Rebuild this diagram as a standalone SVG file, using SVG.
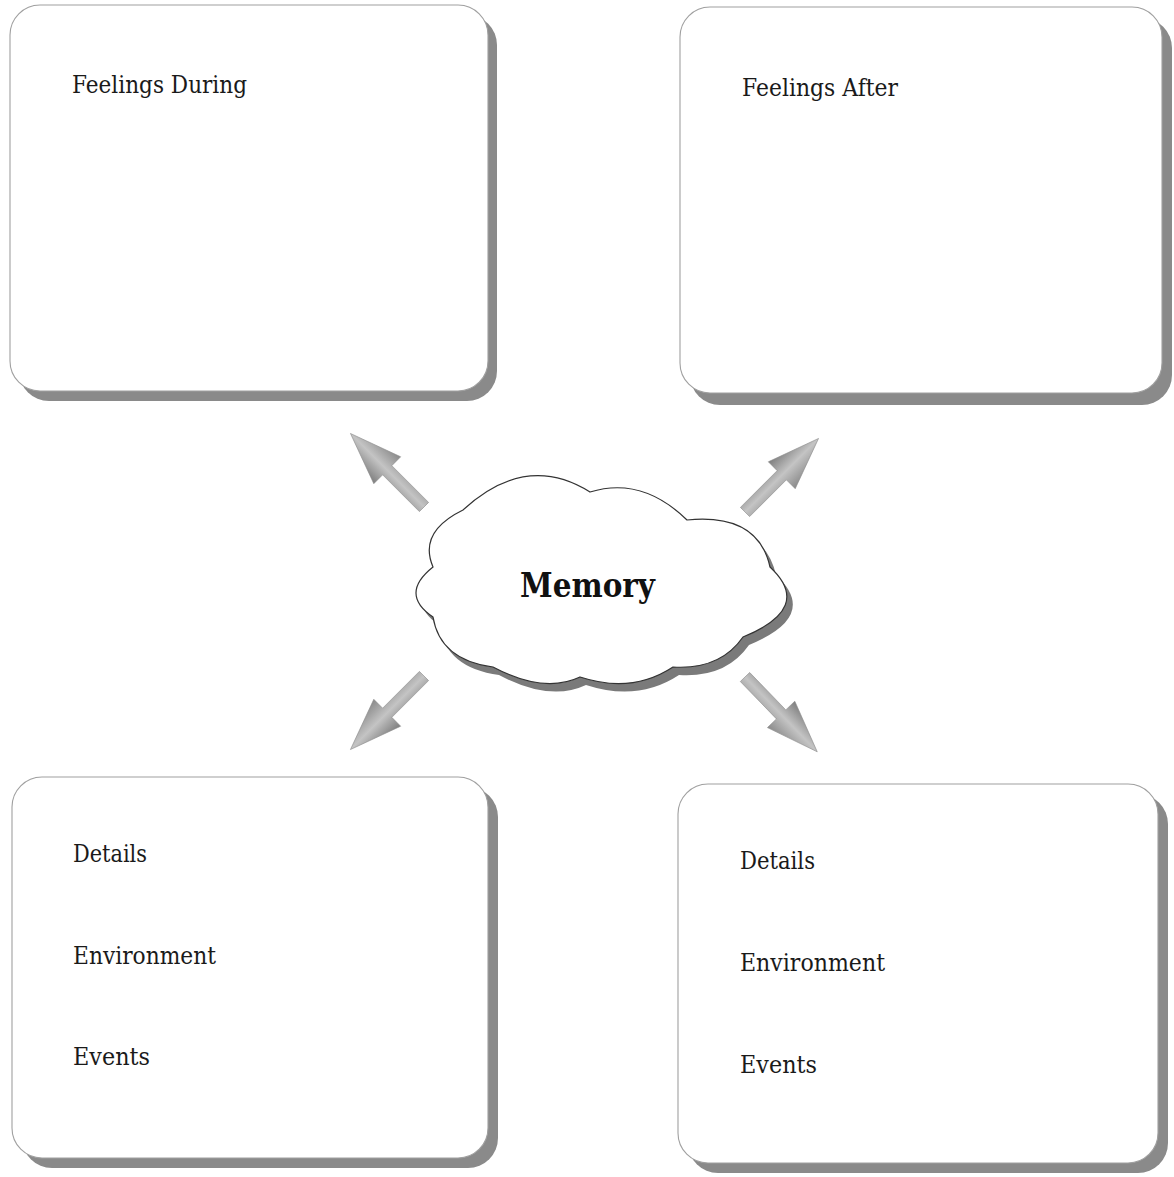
<svg xmlns="http://www.w3.org/2000/svg" xmlns:xlink="http://www.w3.org/1999/xlink" width="1174" height="1177" viewBox="0 0 1174 1177">
<style>
.bg{fill:#ffffff}
.shadow{fill:#8a8a8a}
.box{fill:#ffffff;stroke:#a0a0a0;stroke-width:1.1}
.lbl{font-family:"DejaVu Serif","Liberation Serif",serif;font-size:24px;fill:#1a1a1a}
.title{font-family:"DejaVu Serif","Liberation Serif",serif;font-size:33px;font-weight:bold;fill:#111111}
.cloud{fill:#ffffff;stroke:#333333;stroke-width:1.2}
.cloudshadow{fill:#7a7a7a}
.arrow{fill:url(#ag);stroke:#8c8c8c;stroke-width:0.6}
</style>
<defs>
<linearGradient id="ag" x1="0" y1="0" x2="0" y2="1">
<stop offset="0" stop-color="#7e7e7e"/>
<stop offset="0.5" stop-color="#c4c4c4"/>
<stop offset="1" stop-color="#8a8a8a"/>
</linearGradient>
<path id="arr" d="M0,-6.5 L52,-6.5 L52,-19 L104,0 L52,19 L52,6.5 L0,6.5 Z"/>
<path id="cloudShape" d="M433,617 Q399,594 433,567 Q418,532 463,510 Q526,452 590,492 Q642,476 687,520 Q758,513 770,567 Q814,608 743,637 Q720,670 673,667 Q632,694 580,677 Q544,694 493,667 Q440,660 433,617 Z"/>
</defs>
<rect class="bg" x="0" y="0" width="1174" height="1177"/>

<g id="node-feelings-during">
<rect class="shadow" x="19" y="15" width="478" height="386" rx="30"/>
<rect class="box" x="10" y="5" width="478" height="386" rx="30"/>
<text class="lbl" x="72" y="93" textLength="175" lengthAdjust="spacingAndGlyphs">Feelings During</text>
</g>

<g id="node-feelings-after">
<rect class="shadow" x="690" y="18" width="482" height="387" rx="30"/>
<rect class="box" x="680" y="7" width="482" height="386" rx="30"/>
<text class="lbl" x="742" y="96" textLength="156" lengthAdjust="spacingAndGlyphs">Feelings After</text>
</g>

<g id="node-details-left">
<rect class="shadow" x="22" y="787" width="476" height="381" rx="30"/>
<rect class="box" x="12" y="777" width="476" height="381" rx="30"/>
<text class="lbl" x="73" y="862" textLength="74" lengthAdjust="spacingAndGlyphs">Details</text>
<text class="lbl" x="73" y="964" textLength="143" lengthAdjust="spacingAndGlyphs">Environment</text>
<text class="lbl" x="73" y="1065" textLength="77" lengthAdjust="spacingAndGlyphs">Events</text>
</g>

<g id="node-details-right">
<rect class="shadow" x="688" y="794" width="480" height="379" rx="30"/>
<rect class="box" x="678" y="784" width="480" height="379" rx="30"/>
<text class="lbl" x="740" y="869" textLength="75" lengthAdjust="spacingAndGlyphs">Details</text>
<text class="lbl" x="740" y="971" textLength="145" lengthAdjust="spacingAndGlyphs">Environment</text>
<text class="lbl" x="740" y="1073" textLength="77" lengthAdjust="spacingAndGlyphs">Events</text>
</g>

<g id="node-memory">
<use href="#cloudShape" xlink:href="#cloudShape" class="cloudshadow" transform="translate(6,8)"/>
<use href="#cloudShape" xlink:href="#cloudShape" class="cloud"/>
<text class="title" x="520" y="597" textLength="135" lengthAdjust="spacingAndGlyphs">Memory</text>
</g>

<g id="connectors">
<use href="#arr" xlink:href="#arr" class="arrow" transform="translate(424,507) rotate(-135)"/>
<use href="#arr" xlink:href="#arr" class="arrow" transform="translate(745,512) rotate(-45)"/>
<use href="#arr" xlink:href="#arr" class="arrow" transform="translate(424,676) rotate(135)"/>
<use href="#arr" xlink:href="#arr" class="arrow" transform="translate(745,677) rotate(46)"/>
</g>
</svg>
